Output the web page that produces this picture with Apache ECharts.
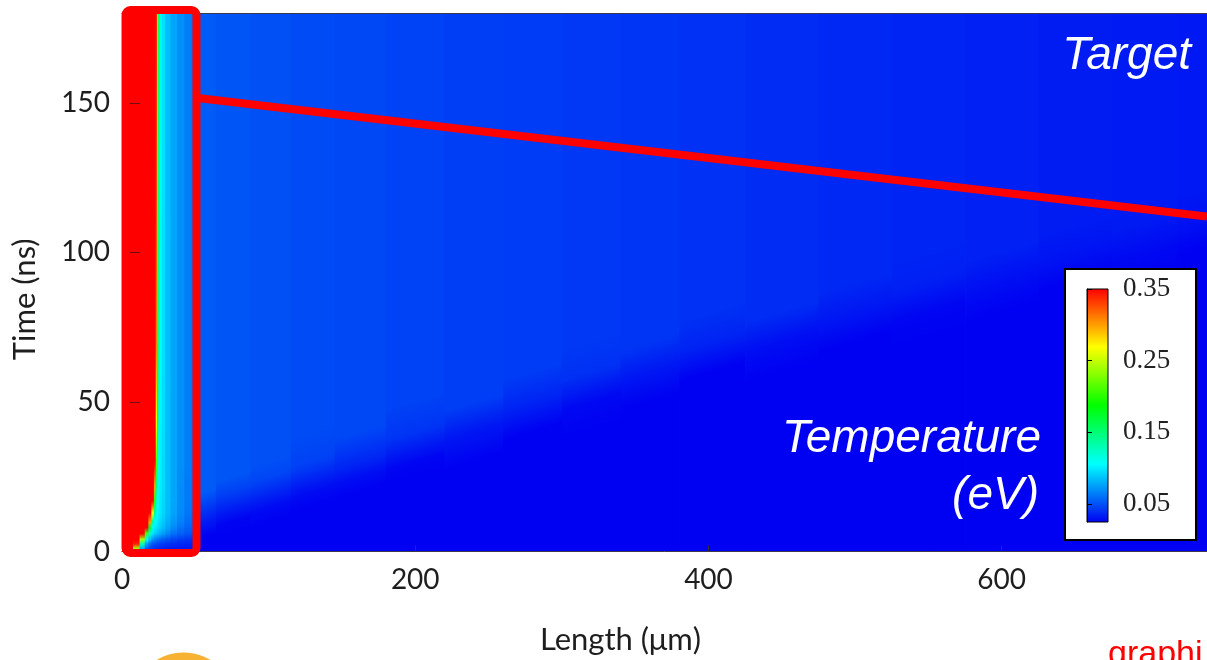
<!DOCTYPE html>
<html>
<head>
<meta charset="utf-8">
<title>Temperature (eV) – Length vs Time</title>
<script src="https://cdn.jsdelivr.net/npm/echarts@6.0.0/dist/echarts.min.js"></script>
<style>
  html, body { margin: 0; padding: 0; background: #ffffff; }
  #chart { width: 1207px; height: 660px; }
</style>
</head>
<body>
<div id="chart"></div>
<script>
// ---- axes -------------------------------------------------------------
const lengthRange = [0, 740];          // µm
const timeRange = [0, 180];            // ns
const colorbarTicks = [0.05, 0.15, 0.25, 0.35];

// ---- colour scale (eV) -------------------------------------------------
const tempRange = [0.025, 0.35];
const tempColors = ['#0000f2', '#00ffff', '#00ff00', '#ffff00', '#ff0000'];

// ---- near-wall field: 0–51.5 µm ----------------------------------------
// column edges (µm), sample times (ns), temperature per time row (eV)
const nearWallEdges = [0, 3, 7.5, 12, 15.5, 18, 20, 21.75, 23, 23.9, 24.65, 25.5, 27, 29.5, 33, 37.5, 42.5, 47.5, 51.5];
const nearWallTimes = [0, 1, 2.5, 4, 6, 8, 10, 13, 17, 22, 30, 45, 70, 120, 180];
const nearWallTemp = [
  [0.40, 0.36, 0.14, 0.060, 0.045, 0.040, 0.037, 0.035, 0.034, 0.033, 0.033, 0.032, 0.032, 0.031, 0.031, 0.030, 0.030, 0.030],
  [0.40, 0.40, 0.24, 0.080, 0.055, 0.047, 0.043, 0.040, 0.039, 0.038, 0.038, 0.037, 0.036, 0.035, 0.034, 0.033, 0.033, 0.032],
  [0.40, 0.40, 0.34, 0.130, 0.075, 0.060, 0.052, 0.049, 0.047, 0.046, 0.045, 0.044, 0.043, 0.041, 0.039, 0.037, 0.036, 0.035],
  [0.40, 0.40, 0.40, 0.240, 0.110, 0.085, 0.072, 0.066, 0.063, 0.061, 0.060, 0.058, 0.055, 0.051, 0.047, 0.044, 0.042, 0.040],
  [0.40, 0.40, 0.40, 0.400, 0.210, 0.120, 0.098, 0.090, 0.087, 0.085, 0.083, 0.080, 0.075, 0.068, 0.061, 0.056, 0.052, 0.049],
  [0.40, 0.40, 0.40, 0.400, 0.370, 0.170, 0.115, 0.102, 0.098, 0.095, 0.093, 0.090, 0.085, 0.077, 0.069, 0.062, 0.057, 0.053],
  [0.40, 0.40, 0.40, 0.400, 0.400, 0.300, 0.140, 0.110, 0.104, 0.100, 0.098, 0.095, 0.089, 0.081, 0.073, 0.066, 0.060, 0.056],
  [0.40, 0.40, 0.40, 0.400, 0.400, 0.400, 0.270, 0.140, 0.115, 0.107, 0.103, 0.099, 0.093, 0.085, 0.077, 0.069, 0.063, 0.058],
  [0.40, 0.40, 0.40, 0.400, 0.400, 0.400, 0.400, 0.200, 0.125, 0.110, 0.105, 0.100, 0.094, 0.086, 0.078, 0.070, 0.064, 0.059],
  [0.40, 0.40, 0.40, 0.400, 0.400, 0.400, 0.400, 0.300, 0.150, 0.115, 0.107, 0.101, 0.095, 0.086, 0.078, 0.070, 0.064, 0.059],
  [0.40, 0.40, 0.40, 0.400, 0.400, 0.400, 0.400, 0.360, 0.210, 0.130, 0.110, 0.102, 0.095, 0.086, 0.078, 0.071, 0.065, 0.060],
  [0.40, 0.40, 0.40, 0.400, 0.400, 0.400, 0.400, 0.400, 0.270, 0.170, 0.120, 0.104, 0.096, 0.086, 0.078, 0.071, 0.065, 0.060],
  [0.40, 0.40, 0.40, 0.400, 0.400, 0.400, 0.400, 0.400, 0.310, 0.200, 0.140, 0.108, 0.096, 0.086, 0.078, 0.071, 0.065, 0.060],
  [0.40, 0.40, 0.40, 0.400, 0.400, 0.400, 0.400, 0.400, 0.330, 0.220, 0.150, 0.110, 0.097, 0.086, 0.078, 0.071, 0.065, 0.060],
  [0.40, 0.40, 0.40, 0.400, 0.400, 0.400, 0.400, 0.400, 0.340, 0.230, 0.160, 0.112, 0.097, 0.086, 0.078, 0.071, 0.065, 0.060]
];

// ---- far field: 51.5–740 µm --------------------------------------------
const farFieldEdges = [51.5, 64, 87.5, 115, 145, 180, 220, 260, 300, 340, 380, 425, 475, 525, 575, 625, 675, 720, 740];
const farFieldTimes = [0, 5, 10, 15, 20, 25, 30, 40, 50, 60, 70, 80, 90, 100, 110, 120, 140, 180];
const farFieldTemp = [
  [0.025, 0.025, 0.025, 0.025, 0.025, 0.025, 0.025, 0.025, 0.025, 0.025, 0.025, 0.025, 0.025, 0.025, 0.025, 0.025, 0.025, 0.025],
  [0.025, 0.025, 0.025, 0.025, 0.025, 0.025, 0.025, 0.025, 0.025, 0.025, 0.025, 0.025, 0.025, 0.025, 0.025, 0.025, 0.025, 0.025],
  [0.0333, 0.026, 0.025, 0.025, 0.025, 0.025, 0.025, 0.025, 0.025, 0.025, 0.025, 0.025, 0.025, 0.025, 0.025, 0.025, 0.025, 0.025],
  [0.0436, 0.0356, 0.0286, 0.025, 0.025, 0.025, 0.025, 0.025, 0.025, 0.025, 0.025, 0.025, 0.025, 0.025, 0.025, 0.025, 0.025, 0.025],
  [0.054, 0.0453, 0.0378, 0.0284, 0.025, 0.025, 0.025, 0.025, 0.025, 0.025, 0.025, 0.025, 0.025, 0.025, 0.025, 0.025, 0.025, 0.025],
  [0.054, 0.052, 0.0469, 0.037, 0.029, 0.025, 0.025, 0.025, 0.025, 0.025, 0.025, 0.025, 0.025, 0.025, 0.025, 0.025, 0.025, 0.025],
  [0.054, 0.052, 0.0505, 0.0456, 0.0371, 0.0265, 0.025, 0.025, 0.025, 0.025, 0.025, 0.025, 0.025, 0.025, 0.025, 0.025, 0.025, 0.025],
  [0.054, 0.052, 0.0505, 0.049, 0.0475, 0.0415, 0.0321, 0.025, 0.025, 0.025, 0.025, 0.025, 0.025, 0.025, 0.025, 0.025, 0.025, 0.025],
  [0.054, 0.052, 0.0505, 0.049, 0.0475, 0.046, 0.0448, 0.0364, 0.0275, 0.025, 0.025, 0.025, 0.025, 0.025, 0.025, 0.025, 0.025, 0.025],
  [0.054, 0.052, 0.0505, 0.049, 0.0475, 0.046, 0.0448, 0.0438, 0.0403, 0.0323, 0.025, 0.025, 0.025, 0.025, 0.025, 0.025, 0.025, 0.025],
  [0.054, 0.052, 0.0505, 0.049, 0.0475, 0.046, 0.0448, 0.0438, 0.0428, 0.042, 0.0361, 0.029, 0.025, 0.025, 0.025, 0.025, 0.025, 0.025],
  [0.054, 0.052, 0.0505, 0.049, 0.0475, 0.046, 0.0448, 0.0438, 0.0428, 0.042, 0.0405, 0.039, 0.0323, 0.0266, 0.025, 0.025, 0.025, 0.025],
  [0.054, 0.052, 0.0505, 0.049, 0.0475, 0.046, 0.0448, 0.0438, 0.0428, 0.042, 0.0405, 0.039, 0.0377, 0.0349, 0.0294, 0.025, 0.025, 0.025],
  [0.054, 0.052, 0.0505, 0.049, 0.0475, 0.046, 0.0448, 0.0438, 0.0428, 0.042, 0.0405, 0.039, 0.0377, 0.0365, 0.0352, 0.0314, 0.028, 0.025],
  [0.054, 0.052, 0.0505, 0.049, 0.0475, 0.046, 0.0448, 0.0438, 0.0428, 0.042, 0.0405, 0.039, 0.0377, 0.0365, 0.0352, 0.034, 0.0333, 0.0304],
  [0.054, 0.052, 0.0505, 0.049, 0.0475, 0.046, 0.0448, 0.0438, 0.0428, 0.042, 0.0405, 0.039, 0.0377, 0.0365, 0.0352, 0.034, 0.0333, 0.0326],
  [0.054, 0.052, 0.0505, 0.049, 0.0475, 0.046, 0.0448, 0.0438, 0.0428, 0.042, 0.0405, 0.039, 0.0377, 0.0365, 0.0352, 0.034, 0.0333, 0.0326],
  [0.054, 0.052, 0.0505, 0.049, 0.0475, 0.046, 0.0448, 0.0438, 0.0428, 0.042, 0.0405, 0.039, 0.0377, 0.0365, 0.0352, 0.034, 0.0333, 0.0326]
];
// slope of the heating front across the far field (ns per µm); the shading
// inside each far-field column follows this direction
const farFieldFrontSlope = 0.14;

// ---- annotations (data coordinates) ------------------------------------
const wallBoxLength = [2.4, 50.8];     // µm
const wallBoxTime = [-0.5, 181];       // ns
const targetLine = [[53, 151.5], [740, 112]];  // [µm, ns]

// ---- helpers ------------------------------------------------------------
function tempColor(v) {
  const f = (v - tempRange[0]) / (tempRange[1] - tempRange[0]);
  return echarts.color.lerp(Math.max(0, Math.min(1, f)), tempColors);
}

// One strip per column, shaded through the time samples along the column.
// With a slope the colour isolines lean with the front so that neighbouring
// columns join up.
function fieldSeries(edges, times, table, slope) {
  const data = [];
  for (let i = 0; i < edges.length - 1; i++) {
    data.push([edges[i], edges[i + 1], times[0], times[times.length - 1], i]);
  }
  const span = times[times.length - 1] - times[0];
  return {
    type: 'custom',
    xAxisIndex: 0,
    yAxisIndex: 0,
    z: 1,
    silent: true,
    encode: { x: [0, 1], y: [2, 3] },
    data: data,
    renderItem: function (params, api) {
      const col = api.value(4);
      const tl = api.coord([api.value(0), api.value(3)]);
      const br = api.coord([api.value(1), api.value(2)]);
      const stops = times.map(function (t, j) {
        return { offset: (t - times[0]) / span, color: tempColor(table[j][col]) };
      });
      const sz = api.size([1, slope]);
      const s = slope ? sz[1] / sz[0] : 0;
      const xc = (tl[0] + br[0]) / 2;
      const k = (br[1] - tl[1]) / (s * s + 1);
      const fill = new echarts.graphic.LinearGradient(xc, br[1], xc - s * k, br[1] - k, stops, true);
      return {
        type: 'rect',
        shape: { x: tl[0], y: tl[1], width: br[0] - tl[0] + 0.8, height: br[1] - tl[1] },
        style: { fill: fill }
      };
    }
  };
}

const axisFont = 'Lato';
const axisTextColor = '#1e1e1e';

const chart = echarts.init(document.getElementById('chart'), null, { renderer: 'canvas' });

const option = {
  animation: false,
  backgroundColor: '#ffffff',
  grid: [
    { left: 122, top: 13, width: 1085, height: 538.5, outerBoundsMode: 'none', containLabel: false },
    { left: 1087, top: 289, width: 21, height: 233, outerBoundsMode: 'none', containLabel: false }
  ],
  xAxis: [
    {
      gridIndex: 0, type: 'value', min: lengthRange[0], max: lengthRange[1], interval: 200,
      position: 'bottom', z: 6,
      name: 'Length (μm)', nameLocation: 'middle', nameGap: 73,
      nameTextStyle: { fontFamily: axisFont, fontSize: 31, color: axisTextColor, padding: [0, 88, 0, 0] },
      axisLine: { show: true, onZero: false, lineStyle: { color: '#3a3a4a', width: 1 } },
      axisTick: { show: true, inside: true, length: 6, lineStyle: { color: '#333' } },
      axisLabel: { fontFamily: axisFont, fontSize: 28, color: axisTextColor, margin: 14, showMaxLabel: false },
      splitLine: { show: false }
    },
    {
      gridIndex: 0, type: 'value', min: lengthRange[0], max: lengthRange[1], position: 'top', z: 6,
      axisLine: { show: true, onZero: false, lineStyle: { color: '#3a3a4a', width: 1 } },
      axisTick: { show: false }, axisLabel: { show: false }, splitLine: { show: false }
    },
    { gridIndex: 1, type: 'value', min: 0, max: 1, show: false }
  ],
  yAxis: [
    {
      gridIndex: 0, type: 'value', min: timeRange[0], max: timeRange[1], interval: 50, z: 6,
      name: 'Time (ns)', nameLocation: 'middle', nameGap: 82,
      nameTextStyle: { fontFamily: axisFont, fontSize: 31, color: axisTextColor, padding: [0, 34, 0, 0] },
      axisLine: { show: true, onZero: false, lineStyle: { color: '#3a3a4a', width: 1 } },
      axisTick: { show: true, inside: true, length: 18, lineStyle: { color: 'rgba(50,20,20,0.7)' } },
      axisLabel: { fontFamily: axisFont, fontSize: 28, color: axisTextColor, margin: 12, showMaxLabel: false, padding: [5, 0, 0, 0] },
      splitLine: { show: false }
    },
    {
      gridIndex: 1, type: 'value', min: tempRange[0], max: tempRange[1], position: 'right', z: 13,
      axisLine: { show: true, lineStyle: { color: '#000', width: 1 } },
      axisTick: { show: true, customValues: colorbarTicks, length: 5, lineStyle: { color: '#000' } },
      axisLabel: {
        customValues: colorbarTicks,
        formatter: function (v) { return v.toFixed(2); },
        fontFamily: 'Liberation Serif', fontSize: 27, color: '#222', margin: 15
      },
      splitLine: { show: false }
    }
  ],
  series: [
    fieldSeries(nearWallEdges, nearWallTimes, nearWallTemp, 0),
    fieldSeries(farFieldEdges, farFieldTimes, farFieldTemp, farFieldFrontSlope),
    {
      // highlighted wall region
      type: 'custom', xAxisIndex: 0, yAxisIndex: 0, z: 8, silent: true, clip: false,
      encode: { x: [0, 1], y: [2, 3] },
      data: [[wallBoxLength[0], wallBoxLength[1], wallBoxTime[0], wallBoxTime[1]]],
      renderItem: function (params, api) {
        const tl = api.coord([api.value(0), api.value(3)]);
        const br = api.coord([api.value(1), api.value(2)]);
        return {
          type: 'rect',
          shape: { x: tl[0], y: tl[1], width: br[0] - tl[0], height: br[1] - tl[1], r: 5 },
          style: { fill: 'none', stroke: '#ff0000', lineWidth: 8 }
        };
      }
    },
    {
      type: 'line', xAxisIndex: 0, yAxisIndex: 0, z: 8, silent: true,
      data: targetLine, symbol: 'none',
      lineStyle: { color: '#ff0000', width: 8 }
    },
    {
      // colour bar
      type: 'custom', xAxisIndex: 2, yAxisIndex: 1, z: 12, silent: true, clip: false,
      encode: { x: [0, 1], y: [2, 3] },
      data: [[0, 1, tempRange[0], tempRange[1]]],
      renderItem: function (params, api) {
        const tl = api.coord([api.value(0), api.value(3)]);
        const br = api.coord([api.value(1), api.value(2)]);
        const stops = tempColors.map(function (c, k) {
          return { offset: k / (tempColors.length - 1), color: c };
        });
        return {
          type: 'rect',
          shape: { x: tl[0], y: tl[1], width: br[0] - tl[0], height: br[1] - tl[1] },
          style: { fill: new echarts.graphic.LinearGradient(0, 1, 0, 0, stops), stroke: '#000', lineWidth: 1 }
        };
      }
    }
  ],
  graphic: {
    elements: [
      {
        type: 'rect', z: 10, silent: true,
        shape: { x: 1065, y: 269, width: 131, height: 271 },
        style: { fill: '#ffffff', stroke: '#000000', lineWidth: 2 }
      },
      {
        type: 'text', z: 10, silent: true, x: 1191, y: 56,
        style: { text: 'Target', font: 'italic 46px "Liberation Sans"', fill: '#ffffff', align: 'right', verticalAlign: 'middle' }
      },
      {
        type: 'text', z: 10, silent: true, x: 1041, y: 439,
        style: { text: 'Temperature', font: 'italic 46px "Liberation Sans"', fill: '#ffffff', align: 'right', verticalAlign: 'middle' }
      },
      {
        type: 'text', z: 10, silent: true, x: 1039, y: 496,
        style: { text: '(eV)', font: 'italic 46px "Liberation Sans"', fill: '#ffffff', align: 'right', verticalAlign: 'middle' }
      },
      {
        type: 'circle', z: 10, silent: true,
        shape: { cx: 183.5, cy: 705, r: 52.5 },
        style: { fill: '#f8b233' }
      },
      {
        type: 'text', z: 10, silent: true, x: 1108, y: 655,
        style: { text: 'graphi', font: '34px "Liberation Sans"', fill: '#ff0000', align: 'left', verticalAlign: 'middle' }
      }
    ]
  }
};

chart.setOption(option);
</script>
</body>
</html>
